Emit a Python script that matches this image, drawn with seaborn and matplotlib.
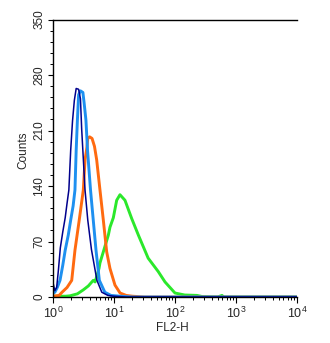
import numpy as np
import pandas as pd
import matplotlib
matplotlib.use('Agg')
import matplotlib.pyplot as plt
import seaborn as sns
from matplotlib.ticker import MultipleLocator

# DANE (log10 FL2-H, liczba zdarzen)
navy_log = [0.00, 0.03, 0.06, 0.09, 0.12, 0.16, 0.20, 0.23, 0.26, 0.29, 0.32, 0.35, 0.38,
            0.42, 0.45, 0.47, 0.50, 0.525, 0.57, 0.63, 0.72, 0.80, 0.90, 1.00, 1.20, 4.00]
navy_cnt = [18, 8, 12, 35, 62, 82, 100, 118, 135, 185, 222, 248, 263,
            262, 250, 212, 170, 135, 97, 60, 21, 6, 2, 1, 0, 0]

blue_log = [0.00, 0.03, 0.07, 0.115, 0.16, 0.20, 0.25, 0.29, 0.33, 0.36, 0.38, 0.40, 0.42,
            0.45, 0.49, 0.51, 0.54, 0.566, 0.615, 0.66, 0.705, 0.76, 0.85, 0.95, 1.10, 1.30, 4.00]
blue_cnt = [5, 6, 12, 21, 40, 59, 78, 97, 115, 135, 185, 223, 255,
            260, 258, 245, 223, 185, 135, 97, 59, 21, 6, 2, 1, 0, 0]

orange_log = [0.00, 0.10, 0.148, 0.23, 0.307, 0.36, 0.43, 0.497, 0.525, 0.557, 0.57, 0.60, 0.64,
              0.68, 0.716, 0.77, 0.825, 0.88, 0.934, 1.016, 1.10, 1.20, 1.30, 1.50, 4.00]
orange_cnt = [1, 2, 6, 12, 21, 59, 97, 135, 173, 189, 200, 202, 200,
              190, 173, 135, 97, 57, 36, 15, 5, 2, 1, 0, 0]

green_log = [0.00, 0.21, 0.28, 0.40, 0.497, 0.58, 0.66, 0.69, 0.754, 0.77, 0.825, 0.907, 0.934,
             0.989, 1.044, 1.098, 1.18, 1.29, 1.40, 1.56, 1.726, 1.836, 2.00, 2.16, 2.36, 2.45,
             2.70, 2.77, 2.80, 3.00, 4.00]
green_cnt = [1, 1, 1.5, 4, 9, 14, 21, 19, 36, 43, 57, 78, 88,
             100, 122, 129, 122, 99, 78, 49, 32, 19, 5, 2.5, 2, 0.5,
             0, 2, 0, 0, 0]

y_ticks = [0, 70, 140, 210, 280, 350]

sns.set_style('ticks')
plt.rcParams['font.family'] = ['Liberation Sans', 'DejaVu Sans']
plt.rcParams['mathtext.fontset'] = 'custom'
plt.rcParams['mathtext.rm'] = 'Liberation Sans'
plt.rcParams['mathtext.it'] = 'Liberation Sans:italic'

fig = plt.figure(figsize=(3.3, 3.43), dpi=100)
ax = fig.add_axes([53 / 330, 1 - 297 / 343, 244 / 330, 277.5 / 343])

series = [
    (green_log, green_cnt, '#2BE82B', 2.1),
    (orange_log, orange_cnt, '#FF6A10', 2.1),
    (blue_log, blue_cnt, '#1E90F0', 2.1),
    (navy_log, navy_cnt, '#00008C', 1.1),
]
for xs, ys, color, lw in series:
    df = pd.DataFrame({'x': np.power(10.0, xs), 'y': ys})
    sns.lineplot(data=df, x='x', y='y', ax=ax, color=color, linewidth=lw)

ax.set_xscale('log')
ax.set_xlim(1, 1e4)
ax.set_ylim(0, 350)
ax.set_yticks(y_ticks)
ax.yaxis.set_minor_locator(MultipleLocator(14))

ax.spines['right'].set_visible(False)
for s in ['left', 'bottom', 'top']:
    ax.spines[s].set_linewidth(1.0)
    ax.spines[s].set_color('black')

ax.tick_params(axis='both', which='major', direction='out', length=3.5, width=0.8,
               labelsize=8.5, color='black', pad=2)
ax.tick_params(axis='both', which='minor', direction='out', length=2, width=0.7, color='black')
ax.tick_params(axis='x', which='major', labelsize=9, length=4)
plt.setp(ax.get_yticklabels(), rotation=90, va='center')

ax.set_xlabel('FL2-H', fontsize=8.5, labelpad=1)
ax.set_ylabel('Counts', fontsize=8.5, labelpad=3)
ax.xaxis.label.set_x(0.488)
ax.yaxis.label.set_y(0.53)

fig.savefig('out.png', dpi=100)
